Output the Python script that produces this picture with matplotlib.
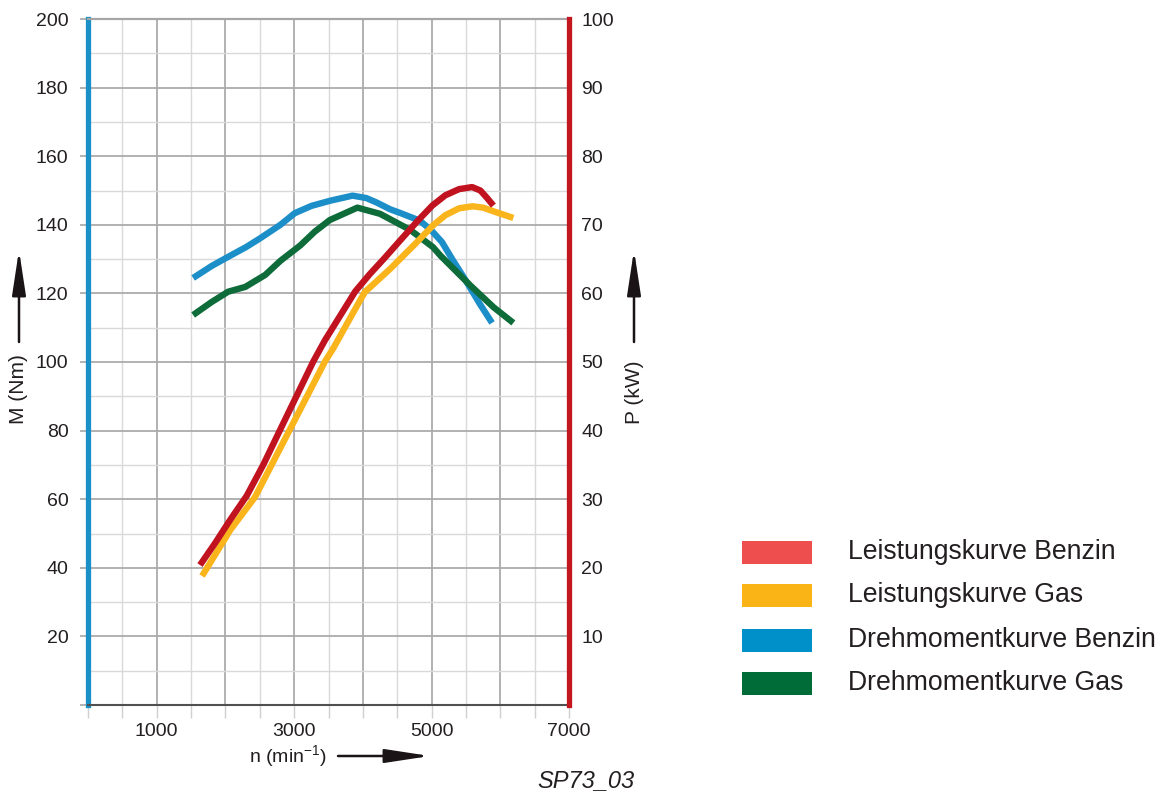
import matplotlib
matplotlib.use("Agg")
import matplotlib.pyplot as plt
from matplotlib.patches import Rectangle, FancyArrowPatch
from matplotlib.ticker import FixedLocator, FixedFormatter
from matplotlib.transforms import IdentityTransform

plt.rcParams['font.family'] = ['Liberation Sans', 'DejaVu Sans']
plt.rcParams['mathtext.default'] = 'regular'

# ---- data ----
rpm_tq_benzin = [1530, 1800, 2070, 2300, 2500, 2800, 3010, 3250, 3520, 3850, 4050, 4200, 4400, 4550, 4830, 5000, 5150, 5300, 5490, 5700, 5880]
tq_benzin = [124.5, 128, 131, 133.5, 136, 140, 143.4, 145.5, 147, 148.5, 147.8, 146.5, 144.5, 143.4, 141.2, 138.3, 135, 130, 124, 117, 111.4]

rpm_tq_gas = [1530, 1800, 2040, 2290, 2580, 2800, 3090, 3300, 3520, 3920, 4250, 4690, 5020, 5130, 5560, 5900, 6190]
tq_gas = [113.7, 117.5, 120.5, 121.9, 125.4, 129.5, 134, 138, 141.4, 145, 143.2, 138.5, 133.5, 131, 122.4, 116, 111.4]

rpm_p_benzin = [1630, 1850, 2070, 2310, 2550, 2800, 3280, 3450, 3890, 4100, 4320, 4550, 4800, 5010, 5200, 5400, 5590, 5710, 5800, 5900]
p_benzin = [20.4, 23.6, 27, 30.5, 35, 40.2, 50.1, 53.2, 60.3, 62.8, 65.2, 67.8, 70.6, 72.8, 74.3, 75.2, 75.5, 75, 74, 72.8]

rpm_p_gas = [1660, 2070, 2430, 2940, 3450, 3570, 3960, 4030, 4400, 4760, 5020, 5200, 5400, 5600, 5750, 5920, 6190]
p_gas = [18.8, 25.5, 30.3, 40.2, 50.1, 52, 59, 60.2, 63.6, 67.2, 69.9, 71.4, 72.4, 72.7, 72.5, 71.9, 71]

x_ticks = [0, 500, 1000, 1500, 2000, 2500, 3000, 3500, 4000, 4500, 5000, 5500, 6000, 6500, 7000]
x_labels = ['', '', '1000', '', '', '', '3000', '', '', '', '5000', '', '', '', '7000']
left_ticks = [0, 20, 40, 60, 80, 100, 120, 140, 160, 180, 200]
left_labels = ['', '20', '40', '60', '80', '100', '120', '140', '160', '180', '200']
right_ticks = [10, 20, 30, 40, 50, 60, 70, 80, 90, 100]
right_labels = ['10', '20', '30', '40', '50', '60', '70', '80', '90', '100']

legend_labels = ['Leistungskurve Benzin', 'Leistungskurve Gas', 'Drehmomentkurve Benzin', 'Drehmomentkurve Gas']
legend_colors = ['#ee4f4e', '#fbb416', '#0090c9', '#006c38']

# ---- figure ----
W, H = 1163, 796
fig = plt.figure(figsize=(W / 100, H / 100), dpi=100)
fx = lambda px: px / W
fy = lambda py: 1 - py / H

ax = fig.add_axes([fx(88), fy(705), fx(569) - fx(88), fy(19) - fy(705)])
ax.set_xlim(0, 7000)
ax.set_ylim(0, 200)

# grid
for xv in range(500, 7000, 500):
    major = xv % 1000 == 0
    ax.axvline(xv, color='#ababab' if major else '#d9d9d9', lw=1.3 if major else 1.0, zorder=0.5)
for yv in range(10, 200, 10):
    major = yv % 20 == 0
    ax.axhline(yv, color='#ababab' if major else '#d9d9d9', lw=1.3 if major else 1.0, zorder=0.5)

ax.xaxis.set_major_locator(FixedLocator(x_ticks))
ax.xaxis.set_major_formatter(FixedFormatter(x_labels))
ax.yaxis.set_major_locator(FixedLocator(left_ticks))
ax.yaxis.set_major_formatter(FixedFormatter(left_labels))
ax.tick_params(axis='x', length=9, width=1.0, color='#d0d0d0', labelsize=14, labelcolor='#231f20', pad=4)
ax.tick_params(axis='y', length=6, width=1.2, color='#a6a6a6', labelsize=14, labelcolor='#231f20', pad=8)

ax.spines['right'].set_visible(False)
ax.spines['top'].set_color('#a6a6a6')
ax.spines['top'].set_linewidth(1.6)
ax.spines['bottom'].set_color('#505050')
ax.spines['bottom'].set_linewidth(1.5)
ax.spines['left'].set_color('#1a90c6')
ax.spines['left'].set_linewidth(3.8)

ax.plot(rpm_tq_benzin, tq_benzin, color='#1c8fc9', lw=4.6, solid_capstyle='butt', solid_joinstyle='round', zorder=3)
ax.plot(rpm_tq_gas, tq_gas, color='#0e6b3a', lw=4.6, solid_capstyle='butt', solid_joinstyle='round', zorder=3)

ax2 = ax.twinx()
ax2.set_ylim(0, 100)
ax2.yaxis.set_major_locator(FixedLocator(right_ticks))
ax2.yaxis.set_major_formatter(FixedFormatter(right_labels))
ax2.tick_params(axis='y', length=0, labelsize=14, labelcolor='#231f20', pad=9)
for s in ['left', 'top', 'bottom']:
    ax2.spines[s].set_visible(False)
ax2.spines['right'].set_color('#c3161f')
ax2.spines['right'].set_linewidth(3.8)

ax2.plot(rpm_p_gas, p_gas, color='#f9b51b', lw=4.6, solid_capstyle='butt', solid_joinstyle='round', zorder=3)
ax2.plot(rpm_p_benzin, p_benzin, color='#c1121f', lw=4.6, solid_capstyle='butt', solid_joinstyle='round', zorder=3)

# axis labels & arrows
fig.text(fx(19), fy(389), 'M (Nm)', rotation=90, ha='center', va='center', fontsize=15, color='#231f20')
fig.text(fx(635), fy(392), 'P (kW)', rotation=90, ha='center', va='center', fontsize=15, color='#231f20')
fig.text(fx(249), fy(756), 'n (min$^{-1}$)', ha='left', va='center', fontsize=14, color='#231f20')
fig.text(fx(537), fy(781), 'SP73_03', ha='left', va='center', fontsize=17, style='italic', color='#231f20')


def arrow(x0, y0, x1, y1):
    a = FancyArrowPatch((x0, H - y0), (x1, H - y1),
                        arrowstyle='-|>,head_length=2.1,head_width=0.32',
                        mutation_scale=13, color='#1a1416', lw=1.8, shrinkA=0, shrinkB=0)
    a.set_transform(IdentityTransform())
    fig.patches.append(a)


arrow(19, 342, 19, 250)
arrow(634, 342, 634, 250)
arrow(338, 756, 430, 756)

# legend
rows = [552, 595, 640, 683]
for lab, col, ry in zip(legend_labels, legend_colors, rows):
    fig.patches.append(Rectangle((fx(742), fy(ry + 11.5)), fx(812) - fx(742), fy(ry - 11.5) - fy(ry + 11.5),
                                 transform=fig.transFigure, facecolor=col, edgecolor='none'))
    fig.text(fx(848), fy(ry), lab, ha='left', va='center', fontsize=19.2, color='#231f20')

fig.savefig('out.png', dpi=100)
